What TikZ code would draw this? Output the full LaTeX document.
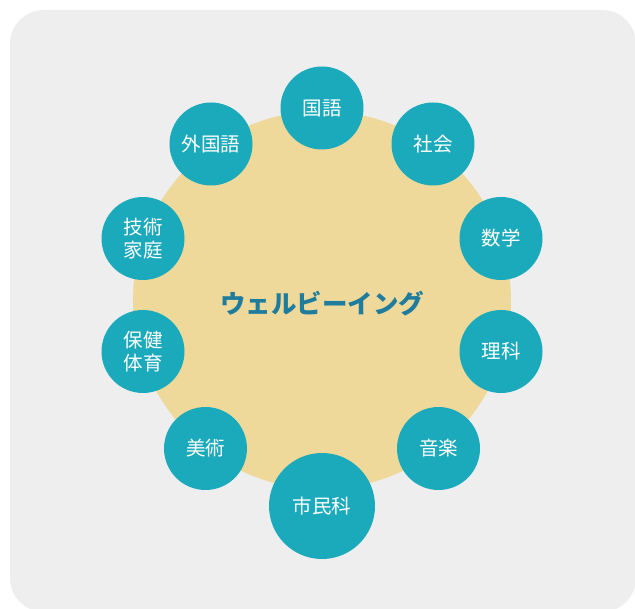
\documentclass[tikz,border=0pt]{standalone}
\usepackage{fontspec}
\newfontfamily\jpfont{Noto Sans CJK JP}
\definecolor{bggray}{HTML}{EEEEEE}
\definecolor{beige}{HTML}{EED99A}
\definecolor{tealc}{HTML}{1BAABC}
\definecolor{titlec}{HTML}{1F7C9C}
\begin{document}
\begin{tikzpicture}[x=1pt,y=-1pt,
  subj/.style={circle,fill=tealc,draw=none,minimum size=83pt,inner sep=0pt,
    text=white,font=\jpfont\fontsize{19.5}{23}\selectfont,align=center},
  bigsubj/.style={subj,minimum size=106pt}]
\useasboundingbox (0,0) rectangle (635,609);
\fill[bggray,rounded corners=34pt] (10,10) rectangle (636,612);
\node[circle,fill=beige,minimum size=378pt,inner sep=0pt] (core) at (322,300) {};
\node[text=titlec,font=\jpfont\bfseries\fontsize{25.5}{30}\selectfont] (title) at (322,304) {ウェルビーイング};
\node[subj] (kokugo) at (322,108) {国語};
\node[subj] (shakai) at (433,144) {社会};
\node[subj] (sugaku) at (501,238.5) {数学};
\node[subj] (rika) at (501,351.5) {理科};
\node[subj] (ongaku) at (438.5,448.5) {音楽};
\node[bigsubj] (shimin) at (322,506) {市民科};
\node[subj] (bijutsu) at (205.5,448.5) {美術};
\node[subj] (hoken) at (143,351.5) {保健\\体育};
\node[subj] (gijutsu) at (143,238.5) {技術\\家庭};
\node[subj] (gaikoku) at (211,144) {外国語};
\end{tikzpicture}
\end{document}
